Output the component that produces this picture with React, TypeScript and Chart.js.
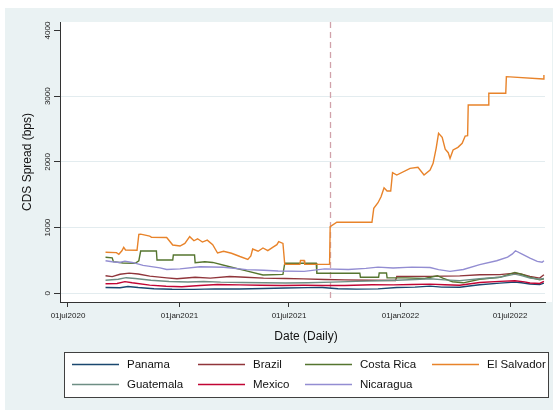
import React, { useEffect, useRef } from "react";
import { Chart, registerables } from "chart.js";

Chart.register(...registerables);

// ---- data: CDS spreads (bps), daily, key dates ----
type Pt = [string, number];

const panama: Pt[] = [
  ["2020-09-01", 88], ["2020-09-25", 86], ["2020-10-08", 104], ["2020-10-25", 88],
  ["2020-11-20", 70], ["2020-12-20", 62], ["2021-01-25", 60], ["2021-03-01", 68],
  ["2021-04-10", 66], ["2021-05-20", 74], ["2021-06-25", 80], ["2021-08-01", 86],
  ["2021-08-25", 88], ["2021-09-20", 70], ["2021-10-20", 64], ["2021-11-25", 68],
  ["2021-12-26", 88], ["2022-01-25", 95], ["2022-02-19", 110], ["2022-03-10", 95],
  ["2022-04-09", 92], ["2022-04-28", 115], ["2022-05-12", 130], ["2022-06-14", 155],
  ["2022-07-09", 170], ["2022-07-20", 160], ["2022-08-03", 142], ["2022-08-19", 132],
  ["2022-08-26", 155],
];

const brazil: Pt[] = [
  ["2020-09-01", 268], ["2020-09-12", 255], ["2020-09-25", 290], ["2020-10-10", 308],
  ["2020-10-25", 295], ["2020-11-13", 262], ["2020-12-11", 235], ["2020-12-28", 222],
  ["2021-01-27", 244], ["2021-02-21", 232], ["2021-03-25", 255], ["2021-04-20", 245],
  ["2021-05-20", 232], ["2021-06-25", 225], ["2021-07-25", 220], ["2021-08-29", 210],
  ["2021-10-01", 205], ["2021-11-10", 200], ["2021-12-24", 195], ["2021-12-26", 255],
  ["2022-01-25", 258], ["2022-02-19", 258], ["2022-03-15", 262], ["2022-04-09", 266],
  ["2022-05-12", 282], ["2022-06-14", 285], ["2022-07-09", 308], ["2022-07-20", 290],
  ["2022-08-03", 258], ["2022-08-19", 232], ["2022-08-26", 282],
];

const costaRica: Pt[] = [
  ["2020-09-01", 548], ["2020-09-12", 540], ["2020-09-14", 482], ["2020-09-30", 462],
  ["2020-10-20", 458], ["2020-10-26", 496], ["2020-10-29", 644], ["2020-11-24", 644],
  ["2020-11-25", 507], ["2020-12-21", 507], ["2020-12-22", 583], ["2021-01-26", 583],
  ["2021-01-27", 466], ["2021-02-12", 481], ["2021-02-25", 470], ["2021-03-25", 405],
  ["2021-04-20", 345], ["2021-05-19", 280], ["2021-06-21", 289], ["2021-06-24", 458],
  ["2021-08-15", 458], ["2021-08-16", 305], ["2021-10-26", 305], ["2021-10-27", 244],
  ["2021-11-26", 244], ["2021-11-27", 310], ["2021-12-09", 310], ["2021-12-10", 238],
  ["2022-01-10", 235], ["2022-02-10", 225], ["2022-03-03", 268], ["2022-03-12", 230],
  ["2022-03-28", 177], ["2022-04-15", 160], ["2022-05-12", 215], ["2022-06-14", 244],
  ["2022-07-09", 318], ["2022-07-20", 290], ["2022-08-03", 244], ["2022-08-19", 207],
  ["2022-08-26", 220],
];

const elSalvador: Pt[] = [
  ["2020-09-01", 624], ["2020-09-19", 620], ["2020-09-23", 594], ["2020-09-28", 648],
  ["2020-10-01", 700], ["2020-10-04", 660], ["2020-10-23", 655], ["2020-10-26", 898],
  ["2020-10-29", 900], ["2020-11-13", 870], ["2020-11-16", 852], ["2020-12-11", 850],
  ["2020-12-21", 735], ["2021-01-02", 720], ["2021-01-10", 760], ["2021-01-18", 862],
  ["2021-01-25", 800], ["2021-01-31", 830], ["2021-02-08", 780], ["2021-02-16", 810],
  ["2021-02-25", 740], ["2021-03-05", 613], ["2021-03-15", 640], ["2021-03-28", 610],
  ["2021-04-11", 560], ["2021-04-24", 517], ["2021-04-29", 570], ["2021-05-02", 674],
  ["2021-05-11", 640], ["2021-05-19", 690], ["2021-05-27", 650], ["2021-06-04", 700],
  ["2021-06-11", 740], ["2021-06-14", 786], ["2021-06-21", 760], ["2021-06-24", 440],
  ["2021-07-19", 440], ["2021-07-20", 500], ["2021-07-26", 500], ["2021-07-27", 440],
  ["2021-09-06", 440], ["2021-09-07", 1014], ["2021-09-18", 1081], ["2021-11-15", 1081],
  ["2021-11-18", 1294], ["2021-11-25", 1379], ["2021-11-30", 1470], ["2021-12-05", 1607],
  ["2021-12-10", 1557], ["2021-12-16", 1557], ["2021-12-19", 1836], ["2021-12-26", 1800],
  ["2022-01-17", 1902], ["2022-01-30", 1918], ["2022-02-09", 1800], ["2022-02-19", 1877],
  ["2022-02-24", 1979], ["2022-03-01", 2207], ["2022-03-05", 2435], ["2022-03-11", 2374],
  ["2022-03-16", 2192], ["2022-03-21", 2140], ["2022-03-24", 2054], ["2022-03-29", 2181],
  ["2022-04-06", 2222], ["2022-04-13", 2283], ["2022-04-18", 2394], ["2022-04-22", 2400],
  ["2022-04-23", 2866], ["2022-05-26", 2866], ["2022-05-27", 3044], ["2022-06-24", 3044],
  ["2022-06-25", 3297], ["2022-08-25", 3262], ["2022-08-26", 3323],
];

const guatemala: Pt[] = [
  ["2020-09-01", 200], ["2020-09-22", 215], ["2020-10-05", 238], ["2020-10-20", 225],
  ["2020-11-15", 200], ["2020-12-15", 180], ["2021-01-15", 172], ["2021-02-10", 180],
  ["2021-03-10", 170], ["2021-04-15", 165], ["2021-05-20", 160], ["2021-06-25", 158],
  ["2021-08-01", 160], ["2021-09-10", 170], ["2021-10-20", 182], ["2021-11-25", 192],
  ["2021-12-26", 200], ["2022-01-25", 210], ["2022-02-19", 222], ["2022-03-15", 205],
  ["2022-04-09", 193], ["2022-05-12", 222], ["2022-06-14", 244], ["2022-07-09", 292],
  ["2022-07-20", 270], ["2022-08-03", 233], ["2022-08-19", 215], ["2022-08-26", 225],
];

const mexico: Pt[] = [
  ["2020-09-01", 145], ["2020-09-20", 150], ["2020-10-03", 178], ["2020-10-15", 160],
  ["2020-11-13", 125], ["2020-12-10", 108], ["2021-01-05", 100], ["2021-02-04", 118],
  ["2021-03-05", 135], ["2021-04-10", 128], ["2021-05-15", 122], ["2021-06-20", 118],
  ["2021-07-25", 122], ["2021-08-25", 120], ["2021-10-01", 118], ["2021-11-15", 130],
  ["2021-12-20", 128], ["2022-01-20", 135], ["2022-02-19", 140], ["2022-03-15", 130],
  ["2022-04-09", 122], ["2022-05-12", 165], ["2022-06-14", 182], ["2022-07-09", 192],
  ["2022-07-25", 175], ["2022-08-03", 157], ["2022-08-19", 150], ["2022-08-26", 182],
];

const nicaragua: Pt[] = [
  ["2020-09-01", 496], ["2020-09-12", 480], ["2020-09-24", 470], ["2020-10-03", 490],
  ["2020-10-15", 470], ["2020-11-02", 425], ["2020-11-30", 388], ["2020-12-11", 362],
  ["2021-01-02", 372], ["2021-02-04", 405], ["2021-03-15", 396], ["2021-04-22", 360],
  ["2021-05-20", 352], ["2021-06-13", 340], ["2021-07-26", 334], ["2021-08-29", 372],
  ["2021-10-07", 362], ["2021-11-05", 380], ["2021-11-25", 398], ["2021-12-20", 385],
  ["2022-01-20", 398], ["2022-02-19", 392], ["2022-03-05", 360], ["2022-03-24", 334],
  ["2022-04-15", 362], ["2022-05-12", 436], ["2022-06-09", 496], ["2022-06-27", 550],
  ["2022-07-05", 600], ["2022-07-10", 648], ["2022-07-21", 598], ["2022-08-03", 537],
  ["2022-08-15", 487], ["2022-08-23", 472], ["2022-08-26", 496],
];

const seriesNames = ["Panama", "Brazil", "Costa Rica", "El Salvador", "Guatemala", "Mexico", "Nicaragua"];
const seriesData = [panama, brazil, costaRica, elSalvador, guatemala, mexico, nicaragua];
const seriesColors = ["#1a476f", "#90353b", "#55752f", "#e8832a", "#6e8e84", "#c10534", "#938dd2"];

const xTickDates = ["2020-07-01", "2021-01-01", "2021-07-01", "2022-01-01", "2022-07-01"];
const xTickLabels = ["01jul2020", "01jan2021", "01jul2021", "01jan2022", "01jul2022"];
const yTicks = [0, 1000, 2000, 3000, 4000];
const eventDate = "2021-09-06";

const yTitle = "CDS Spread (bps)";
const xTitle = "Date (Daily)";

const DAY = 86400000;
const ts = (s: string) => Date.parse(s + "T00:00:00Z");
const FONT = "'Liberation Sans', Arial, Helvetica, sans-serif";
const GRAPH_BG = "#eaf2f3";
const INK = "#222222";
const TICK_FONT = 8;

const stataFrame = {
  id: "stataFrame",
  beforeDraw(chart: any) {
    const { ctx, width, height, chartArea } = chart;
    ctx.save();
    ctx.fillStyle = "#ffffff";
    ctx.fillRect(0, 0, width, height);
    ctx.fillStyle = GRAPH_BG;
    ctx.fillRect(5, 8, 548, height - 8);
    ctx.fillStyle = "#ffffff";
    ctx.fillRect(chartArea.left, chartArea.top, 552 - chartArea.left, chartArea.bottom - chartArea.top);
    ctx.restore();
  },
  beforeDatasetsDraw(chart: any) {
    const { ctx, chartArea, scales } = chart;
    const x = Math.round(scales.x.getPixelForValue(ts(eventDate))) + 0.5;
    ctx.save();
    ctx.strokeStyle = "#d1a2aa";
    ctx.lineWidth = 1.3;
    ctx.setLineDash([6, 4]);
    ctx.beginPath();
    ctx.moveTo(x, chartArea.top);
    ctx.lineTo(x, chartArea.bottom);
    ctx.stroke();
    ctx.restore();
  },
  afterDraw(chart: any) {
    const { ctx, chartArea, scales } = chart;
    ctx.save();
    ctx.fillStyle = INK;
    // rotated y tick labels
    ctx.font = `${TICK_FONT}px ${FONT}`;
    ctx.textAlign = "center";
    ctx.textBaseline = "middle";
    yTicks.forEach((v) => {
      const y = scales.y.getPixelForValue(v);
      ctx.save();
      ctx.translate(47.5, y);
      ctx.rotate(-Math.PI / 2);
      ctx.fillText(String(v), 0, 0);
      ctx.restore();
    });
    // axis titles
    ctx.font = `12px ${FONT}`;
    ctx.fillStyle = "#111";
    ctx.save();
    ctx.translate(28, (chartArea.top + chartArea.bottom) / 2);
    ctx.rotate(-Math.PI / 2);
    ctx.fillText(yTitle, 0, 0);
    ctx.restore();
    ctx.fillText(xTitle, (chartArea.left + 552) / 2, 337);

    // legend box
    const bx = 64.5, by = 352.5, bw = 484, bh = 45;
    ctx.fillStyle = "#ffffff";
    ctx.fillRect(bx, by, bw, bh);
    ctx.strokeStyle = "#404040";
    ctx.lineWidth = 1;
    ctx.strokeRect(bx, by, bw, bh);
    const cols = [72, 198, 305, 432];
    const rows = [364.5, 384.5];
    ctx.font = `11.5px ${FONT}`;
    ctx.textAlign = "left";
    seriesNames.forEach((name, i) => {
      const cx = cols[i % 4];
      const cy = rows[Math.floor(i / 4)];
      ctx.strokeStyle = seriesColors[i];
      ctx.lineWidth = 1.4;
      ctx.beginPath();
      ctx.moveTo(cx, cy);
      ctx.lineTo(cx + 47, cy);
      ctx.stroke();
      ctx.fillStyle = "#111";
      ctx.fillText(name, cx + 55, cy + 0.5);
    });
    ctx.restore();
  },
};

export default function App() {
  const canvasRef = useRef<HTMLCanvasElement | null>(null);

  useEffect(() => {
    document.body.style.margin = "0";
    const canvas = canvasRef.current;
    if (!canvas) return;

    const origin = ts("2020-07-01");
    const chart = new Chart(canvas, {
      type: "line",
      data: {
        datasets: seriesData.map((pts, i) => ({
          label: seriesNames[i],
          data: pts.map(([d, v]) => ({ x: ts(d), y: v })),
          borderColor: seriesColors[i],
          backgroundColor: seriesColors[i],
          borderWidth: 1.4,
          pointRadius: 0,
          tension: 0,
          order: seriesNames.length - i,
        })),
      },
      options: {
        responsive: false,
        animation: false,
        devicePixelRatio: 1,
        layout: { padding: { left: 0, right: 13, top: 22, bottom: 0 } },
        plugins: { legend: { display: false }, tooltip: { enabled: false } },
        scales: {
          x: {
            type: "linear",
            min: origin - 13.2 * DAY,
            max: origin + 787.8 * DAY,
            afterBuildTicks: (scale: any) => {
              scale.ticks = xTickDates.map((d) => ({ value: ts(d) }));
            },
            afterFit: (scale: any) => {
              scale.height = 108;
            },
            ticks: {
              autoSkip: false,
              maxRotation: 0,
              minRotation: 0,
              padding: 4,
              color: INK,
              font: { family: FONT, size: TICK_FONT },
              callback: (_v: any, idx: number) => xTickLabels[idx],
            },
            grid: {
              drawOnChartArea: false,
              drawTicks: true,
              tickLength: 5,
              tickColor: "#333",
              lineWidth: 1,
            },
            border: { display: true, color: "#333", width: 1 },
          },
          y: {
            type: "linear",
            min: -132,
            max: 4129,
            afterBuildTicks: (scale: any) => {
              scale.ticks = yTicks.map((v) => ({ value: v }));
            },
            afterFit: (scale: any) => {
              scale.width = 60;
            },
            ticks: {
              color: "rgba(0,0,0,0)",
              font: { family: FONT, size: TICK_FONT },
            },
            grid: {
              drawOnChartArea: true,
              drawTicks: true,
              tickLength: 6,
              tickColor: "#333",
              lineWidth: 1,
              color: (c: any) =>
                c.tick && c.tick.value === 4000 ? "rgba(0,0,0,0)" : "#e3ecef",
            },
            border: { display: true, color: "#333", width: 1 },
          },
        },
      },
      plugins: [stataFrame],
    } as any);

    return () => chart.destroy();
  }, []);

  return (
    <div style={{ position: "fixed", left: 0, top: 0, width: 558, height: 410 }}>
      <canvas ref={canvasRef} width={558} height={410} style={{ display: "block" }} />
    </div>
  );
}
